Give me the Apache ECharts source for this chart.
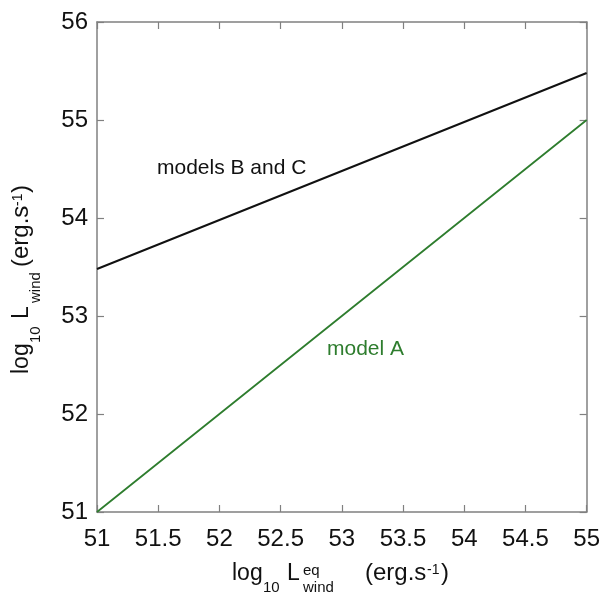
<!DOCTYPE html>
<html>
<head>
<meta charset="utf-8">
<script src="https://cdn.jsdelivr.net/npm/echarts@6/dist/echarts.min.js"></script>
<style>
  html, body { margin: 0; padding: 0; background: #ffffff; }
  #chart { width: 603px; height: 596px; }
</style>
</head>
<body>
<div id="chart"></div>
<script>
// Wind luminosity vs. equipartition wind luminosity (both log10, erg/s)
const xValues = [51, 52, 53, 54, 55];
const modelBC = [53.48, 53.98, 54.48, 54.98, 55.48];
const modelA = [51, 52, 53, 54, 55];

const xRange = [51, 55];
const yRange = [51, 56];
const xStep = 0.5;
const yStep = 1;

const labelBC = 'models B and C';
const labelA = 'model A';

const FONT = "'Liberation Sans', Arial, Helvetica, sans-serif";
const INK = '#111111';
const FRAME = '#808080';
const GREEN = '#2e7d2e';

// Title pieces: text, font size, offset along the line, offset across it
// (positive = lower, i.e. subscript).
function buildTitle(parts) {
  return parts.map(function (p) {
    return {
      type: 'text',
      x: p.at,
      y: p.dy || 0,
      silent: true,
      style: {
        text: p.t,
        font: p.size + 'px ' + FONT,
        fill: INK,
        align: 'left',
        verticalAlign: 'middle'
      }
    };
  });
}

const xTitle = buildTitle([
  { t: 'log', size: 23, at: 0 },
  { t: '10', size: 15, at: 31, dy: 14 },
  { t: 'L', size: 23, at: 55 },
  { t: 'eq', size: 15, at: 71, dy: -3 },
  { t: 'wind', size: 15, at: 71, dy: 14 },
  { t: '(erg.s', size: 24, at: 133 },
  { t: '-1', size: 14, at: 195, dy: -3 },
  { t: ')', size: 24, at: 209 }
]);

const yTitle = buildTitle([
  { t: 'log', size: 23, at: 0 },
  { t: '10', size: 15, at: 31, dy: 14 },
  { t: 'L', size: 23, at: 55 },
  { t: 'wind', size: 15, at: 71, dy: 14 },
  { t: '(erg.s', size: 24, at: 107 },
  { t: '-1', size: 14, at: 168, dy: -3 },
  { t: ')', size: 24, at: 181 }
]);

const frameLine = { show: true, onZero: false, lineStyle: { color: FRAME, width: 1.5 } };
const innerTick = { show: true, inside: true, length: 7, lineStyle: { color: FRAME, width: 1.2 } };

function xAxisDef(pos, showLabels) {
  return {
    type: 'value', position: pos, min: xRange[0], max: xRange[1], interval: xStep,
    axisLine: frameLine, axisTick: innerTick, splitLine: { show: false },
    axisLabel: {
      show: showLabels, fontSize: 24, fontFamily: FONT, color: INK, margin: 15,
      showMinLabel: true, showMaxLabel: true, hideOverlap: false
    }
  };
}
function yAxisDef(pos, showLabels) {
  return {
    type: 'value', position: pos, min: yRange[0], max: yRange[1], interval: yStep,
    axisLine: frameLine, axisTick: innerTick, splitLine: { show: false },
    axisLabel: {
      show: showLabels, fontSize: 24, fontFamily: FONT, color: INK, margin: 9,
      padding: [0, 0, 12, 0],
      showMinLabel: true, showMaxLabel: true, hideOverlap: false
    }
  };
}

const chart = echarts.init(document.getElementById('chart'), null, { renderer: 'canvas' });
chart.setOption({
  animation: false,
  backgroundColor: '#ffffff',
  grid: { left: 97, right: 15, top: 22, bottom: 84, containLabel: false },
  xAxis: [xAxisDef('bottom', true), xAxisDef('top', false)],
  yAxis: [yAxisDef('left', true), yAxisDef('right', false)],
  series: [
    {
      name: labelBC, type: 'line', xAxisIndex: 0, yAxisIndex: 0,
      showSymbol: false, smooth: false,
      lineStyle: { color: INK, width: 2 },
      data: xValues.map(function (x, i) { return [x, modelBC[i]]; })
    },
    {
      name: labelA, type: 'line', xAxisIndex: 0, yAxisIndex: 0,
      showSymbol: false, smooth: false,
      lineStyle: { color: GREEN, width: 1.8 },
      data: xValues.map(function (x, i) { return [x, modelA[i]]; })
    }
  ],
  graphic: [
    {
      type: 'text', left: 157, top: 158, silent: true,
      style: { text: labelBC, font: '21px ' + FONT, fill: INK }
    },
    {
      type: 'text', left: 327, top: 339, silent: true,
      style: { text: labelA, font: '21px ' + FONT, fill: GREEN }
    },
    { type: 'group', x: 232, y: 573.5, silent: true, children: xTitle },
    { type: 'group', x: 21.5, y: 374, rotation: Math.PI / 2, silent: true, children: yTitle }
  ]
});
</script>
</body>
</html>
